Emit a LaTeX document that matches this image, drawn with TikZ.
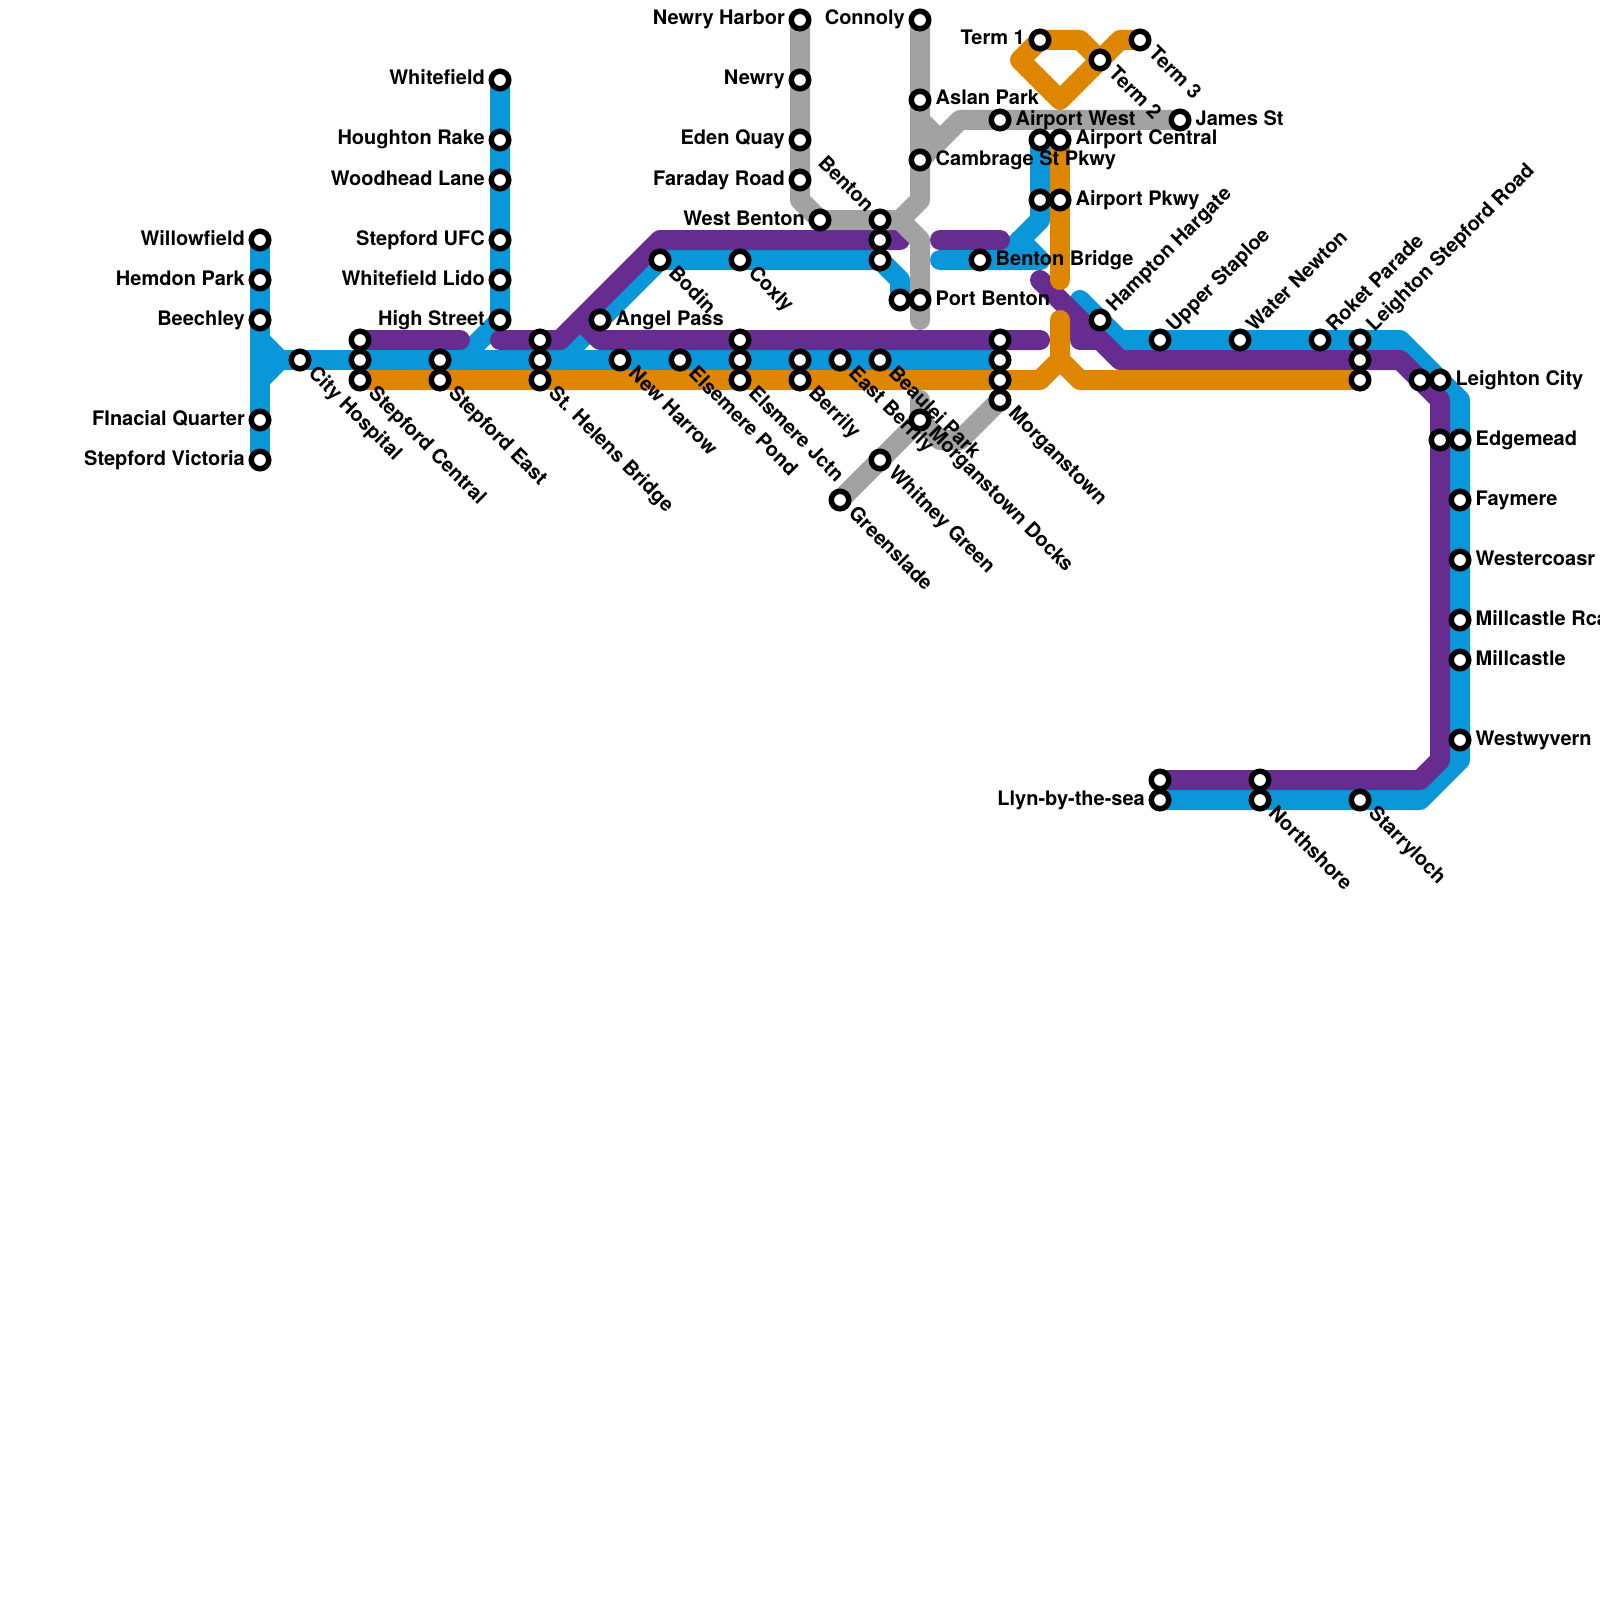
\documentclass[tikz,border=0pt]{standalone}
\usepackage{fontspec}
\setmainfont{TeX Gyre Heros}
\usepackage{tikz}
\definecolor{azul}{HTML}{0A97D9}
\definecolor{morado}{HTML}{662C90}
\definecolor{naranja}{HTML}{DF8600}
\definecolor{gris}{HTML}{A2A2A2}
\tikzset{
  linea/.style={line width=20pt,line cap=round,line join=round},
  parada/.style={circle,draw=black,fill=white,line width=5.5pt,inner sep=0pt,minimum size=17.5pt},
  rot/.style={font=\fontsize{20}{20}\selectfont\bfseries,inner sep=0pt,text=black},
  rotder/.style={rot,anchor=base west,xshift=15.5pt,yshift=-5pt},
  rotizq/.style={rot,anchor=base east,xshift=-15pt,yshift=-5pt},
  rotbaja/.style={rot,rotate=-45,anchor=base west,xshift=15.5pt,yshift=-5pt},
  rotsube/.style={rot,rotate=45,anchor=base west,xshift=15.5pt,yshift=-5pt},
  rotatras/.style={rot,rotate=-45,anchor=base east,xshift=-15pt,yshift=-5pt},
}
\begin{document}
\begin{tikzpicture}[x=20pt,y=-20pt]
\useasboundingbox (0,0) rectangle (80,80);
% lines
\draw[linea,azul] (13,12) -- (13,23);
\draw[linea,azul] (13,17) -- (14,18) -- (13,19);
\draw[linea,azul] (14,18) -- (50,18);
\draw[linea,azul] (25,4) -- (25,16) -- (23,18);
\draw[linea,azul] (28,18) -- (33,13) -- (44,13) -- (45,14) -- (45,15);
\draw[linea,azul] (52,7) -- (52,11) -- (50,13);
\draw[linea,azul] (47,13) -- (52,13) -- (51,12);
\draw[linea,azul] (54,15) -- (56,17) -- (70,17) -- (73,20) -- (73,38) -- (71,40) -- (58,40);
\draw[linea,morado] (18,17) -- (23,17);
\draw[linea,morado] (25,17) -- (28,17) -- (33,12) -- (45,12);
\draw[linea,morado] (29,16) -- (30,17) -- (52,17);
\draw[linea,morado] (47,12) -- (50,12);
\draw[linea,morado] (52,14) -- (56,18) -- (70,18) -- (72,20) -- (72,38) -- (71,39) -- (58,39);
\draw[linea,morado] (54,16) -- (54,17) -- (55,17);
\draw[linea,naranja] (18,19) -- (52,19) -- (53,18) -- (53,16);
\draw[linea,naranja] (53,18) -- (54,19) -- (68,19);
\draw[linea,naranja] (53,7) -- (53,14);
\draw[linea,naranja] (57,2) -- (56,2) -- (53,5) -- (51,3) -- (52,2) -- (54,2) -- (55,3);
\draw[linea,gris] (40,1) -- (40,10) -- (41,11) -- (45,11) -- (46,10) -- (46,1);
\draw[linea,gris] (45,11) -- (46,12) -- (46,16);
\draw[linea,gris] (46,8) -- (48,6) -- (59,6);
\draw[linea,gris] (46,6) -- (47,7);
\draw[linea,gris] (42,25) -- (46,21) -- (47,22) -- (48,22) -- (50,20);
\draw[linea,gris] (46,20) -- (46,21);
% stations
\node[parada] (willow) at (13,12) {};
\node[parada] (hemdon) at (13,14) {};
\node[parada] (beech) at (13,16) {};
\node[parada] (finacial) at (13,21) {};
\node[parada] (victoria) at (13,23) {};
\node[parada] (hospital) at (15,18) {};
\node[parada] (centralA) at (18,17) {};
\node[parada] (centralB) at (18,18) {};
\node[parada] (central) at (18,19) {};
\node[parada] (eastB) at (22,18) {};
\node[parada] (east) at (22,19) {};
\node[parada] (whitef) at (25,4) {};
\node[parada] (hought) at (25,7) {};
\node[parada] (woodh) at (25,9) {};
\node[parada] (ufc) at (25,12) {};
\node[parada] (lido) at (25,14) {};
\node[parada] (high) at (25,16) {};
\node[parada] (helensA) at (27,17) {};
\node[parada] (helensB) at (27,18) {};
\node[parada] (helens) at (27,19) {};
\node[parada] (angel) at (30,16) {};
\node[parada] (harrow) at (31,18) {};
\node[parada] (pond) at (34,18) {};
\node[parada] (bodin) at (33,13) {};
\node[parada] (coxly) at (37,13) {};
\node[parada] (jctnA) at (37,17) {};
\node[parada] (jctnB) at (37,18) {};
\node[parada] (jctn) at (37,19) {};
\node[parada] (berrB) at (40,18) {};
\node[parada] (berr) at (40,19) {};
\node[parada] (eberr) at (42,18) {};
\node[parada] (beaulei) at (44,18) {};
\node[parada] (morgA) at (50,17) {};
\node[parada] (morgB) at (50,18) {};
\node[parada] (morgC) at (50,19) {};
\node[parada] (morg) at (50,20) {};
\node[parada] (docks) at (46,21) {};
\node[parada] (whitney) at (44,23) {};
\node[parada] (green) at (42,25) {};
\node[parada] (harbor) at (40,1) {};
\node[parada] (newry) at (40,4) {};
\node[parada] (eden) at (40,7) {};
\node[parada] (faraday) at (40,9) {};
\node[parada] (wbenton) at (41,11) {};
\node[parada] (benton) at (44,11) {};
\node[parada] (bentonB) at (44,12) {};
\node[parada] (bentonC) at (44,13) {};
\node[parada] (connoly) at (46,1) {};
\node[parada] (aslan) at (46,5) {};
\node[parada] (cambrage) at (46,8) {};
\node[parada] (portB) at (45,15) {};
\node[parada] (port) at (46,15) {};
\node[parada] (bridge) at (49,13) {};
\node[parada] (awest) at (50,6) {};
\node[parada] (james) at (59,6) {};
\node[parada] (acentB) at (52,7) {};
\node[parada] (acent) at (53,7) {};
\node[parada] (apkwyB) at (52,10) {};
\node[parada] (apkwy) at (53,10) {};
\node[parada] (term1) at (52,2) {};
\node[parada] (term2) at (55,3) {};
\node[parada] (term3) at (57,2) {};
\node[parada] (hampton) at (55,16) {};
\node[parada] (upper) at (58,17) {};
\node[parada] (water) at (62,17) {};
\node[parada] (roket) at (66,17) {};
\node[parada] (leigh) at (68,17) {};
\node[parada] (leighB) at (68,18) {};
\node[parada] (leighC) at (68,19) {};
\node[parada] (cityB) at (71,19) {};
\node[parada] (city) at (72,19) {};
\node[parada] (edgeB) at (72,22) {};
\node[parada] (edge) at (73,22) {};
\node[parada] (faym) at (73,25) {};
\node[parada] (westc) at (73,28) {};
\node[parada] (millr) at (73,31) {};
\node[parada] (mill) at (73,33) {};
\node[parada] (wyv) at (73,37) {};
\node[parada] (llynB) at (58,39) {};
\node[parada] (llyn) at (58,40) {};
\node[parada] (northB) at (63,39) {};
\node[parada] (north) at (63,40) {};
\node[parada] (starry) at (68,40) {};
% names
\node[rotizq] (twillow) at (willow) {Willowfield};
\node[rotizq] (themdon) at (hemdon) {Hemdon Park};
\node[rotizq] (tbeech) at (beech) {Beechley};
\node[rotizq] (tfinacial) at (finacial) {FInacial Quarter};
\node[rotizq] (tvictoria) at (victoria) {Stepford Victoria};
\node[rotizq] (twhitef) at (whitef) {Whitefield};
\node[rotizq] (thought) at (hought) {Houghton Rake};
\node[rotizq] (twoodh) at (woodh) {Woodhead Lane};
\node[rotizq] (tufc) at (ufc) {Stepford UFC};
\node[rotizq] (tlido) at (lido) {Whitefield Lido};
\node[rotizq] (thigh) at (high) {High Street};
\node[rotizq] (tharbor) at (harbor) {Newry Harbor};
\node[rotizq] (tnewry) at (newry) {Newry};
\node[rotizq] (teden) at (eden) {Eden Quay};
\node[rotizq] (tfaraday) at (faraday) {Faraday Road};
\node[rotizq] (twbenton) at (wbenton) {West Benton};
\node[rotizq] (tconnoly) at (connoly) {Connoly};
\node[rotizq] (tterm1) at (term1) {Term 1};
\node[rotizq] (tllyn) at (llyn) {Llyn-by-the-sea};
\node[rotder] (tangel) at (angel) {Angel Pass};
\node[rotder] (taslan) at (aslan) {Aslan Park};
\node[rotder] (tawest) at (awest) {Airport West};
\node[rotder] (tcambrage) at (cambrage) {Cambrage St Pkwy};
\node[rotder] (tjames) at (james) {James St};
\node[rotder] (tacent) at (acent) {Airport Central};
\node[rotder] (tapkwy) at (apkwy) {Airport Pkwy};
\node[rotder] (tbridge) at (bridge) {Benton Bridge};
\node[rotder] (tport) at (port) {Port Benton};
\node[rotder] (tcity) at (city) {Leighton City};
\node[rotder] (tedge) at (edge) {Edgemead};
\node[rotder] (tfaym) at (faym) {Faymere};
\node[rotder] (twestc) at (westc) {Westercoasr};
\node[rotder] (tmillr) at (millr) {Millcastle Rca};
\node[rotder] (tmill) at (mill) {Millcastle};
\node[rotder] (twyv) at (wyv) {Westwyvern};
\node[rotbaja] (thospital) at (hospital) {City Hospital};
\node[rotbaja] (tcentral) at (central) {Stepford Central};
\node[rotbaja] (teast) at (east) {Stepford East};
\node[rotbaja] (thelens) at (helens) {St. Helens Bridge};
\node[rotbaja] (tharrow) at (harrow) {New Harrow};
\node[rotbaja] (tpond) at (pond) {Elsemere Pond};
\node[rotbaja] (tbodin) at (bodin) {Bodin};
\node[rotbaja] (tcoxly) at (coxly) {Coxly};
\node[rotbaja] (tjctn) at (jctn) {Elsmere Jctn};
\node[rotbaja] (tberr) at (berr) {Berrily};
\node[rotbaja] (teberr) at (eberr) {East Berrily};
\node[rotbaja] (tbeaulei) at (beaulei) {Beaulei Park};
\node[rotbaja] (tmorg) at (morg) {Morganstown};
\node[rotbaja] (tdocks) at (docks) {Morganstown Docks};
\node[rotbaja] (twhitney) at (whitney) {Whitney Green};
\node[rotbaja] (tgreen) at (green) {Greenslade};
\node[rotbaja] (tterm2) at (term2) {Term 2};
\node[rotbaja] (tterm3) at (term3) {Term 3};
\node[rotbaja] (tnorth) at (north) {Northshore};
\node[rotbaja] (tstarry) at (starry) {Starryloch};
\node[rotsube] (thampton) at (hampton) {Hampton Hargate};
\node[rotsube] (tupper) at (upper) {Upper Staploe};
\node[rotsube] (twater) at (water) {Water Newton};
\node[rotsube] (troket) at (roket) {Roket Parade};
\node[rotsube] (tleigh) at (leigh) {Leighton Stepford Road};
\node[rotatras] (tbenton) at (benton) {Benton};
\end{tikzpicture}
\end{document}
